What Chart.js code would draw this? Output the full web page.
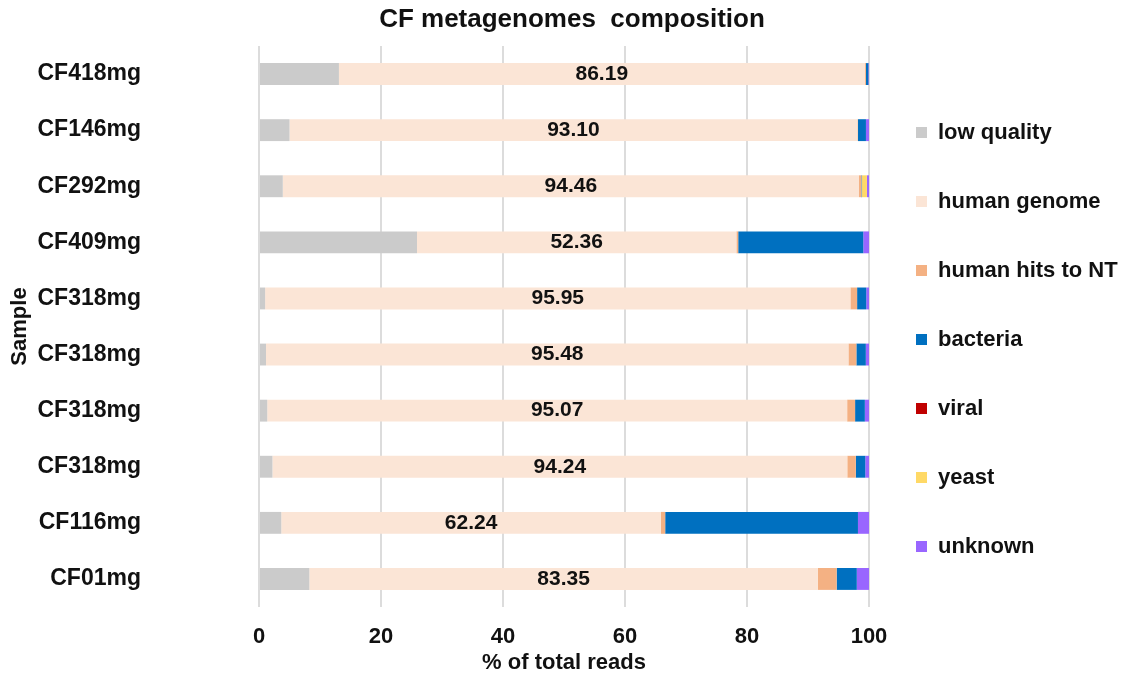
<!DOCTYPE html>
<html>
<head>
<meta charset="utf-8">
<script src="https://cdn.jsdelivr.net/npm/chart.js@4.4.0/dist/chart.umd.min.js"></script>
<style>
  body { margin: 0; background: #fff; }
  #wrap { width: 1122px; height: 679px; }
</style>
</head>
<body>
<div id="wrap"><canvas id="compChart" width="1122" height="679"></canvas></div>
<script>
// Samples, top row first
const samples = ['CF418mg', 'CF146mg', 'CF292mg', 'CF409mg', 'CF318mg', 'CF318mg', 'CF318mg', 'CF318mg', 'CF116mg', 'CF01mg'];

// % of total reads per category
const lowQuality  = [13.1, 5.0, 3.9, 25.9, 1.0, 1.15, 1.35, 2.2, 3.65, 8.25];
const humanGenome = [86.19, 93.10, 94.46, 52.36, 95.95, 95.48, 95.07, 94.24, 62.24, 83.35];
const humanHitsNT = [0.2, 0.1, 0.4, 0.3, 1.1, 1.3, 1.3, 1.4, 0.7, 3.1];
const bacteria    = [0.4, 1.3, 0.1, 20.5, 1.5, 1.55, 1.6, 1.55, 31.6, 3.3];
const viral       = [0.01, 0, 0, 0, 0, 0, 0, 0, 0, 0];
const yeast       = [0, 0, 0.8, 0, 0, 0, 0, 0, 0, 0];
const unknown     = [0.1, 0.5, 0.34, 0.94, 0.45, 0.52, 0.68, 0.61, 1.81, 2.0];

const seriesNames  = ['low quality', 'human genome', 'human hits to NT', 'bacteria', 'viral', 'yeast', 'unknown'];
const seriesValues = [lowQuality, humanGenome, humanHitsNT, bacteria, viral, yeast, unknown];
const seriesColors = ['#CBCBCB', '#FBE5D6', '#F4B183', '#0070C0', '#C00000', '#FFD966', '#9966FF'];

const FONT = "'Liberation Sans', Arial, sans-serif";

// write the human genome share in the middle of its segment
const humanLabels = {
    id: 'humanLabels',
    afterDatasetsDraw(chart) {
        const ctx = chart.ctx;
        const meta = chart.getDatasetMeta(1);
        ctx.save();
        ctx.font = 'bold 21px ' + FONT;
        ctx.fillStyle = '#111';
        ctx.textAlign = 'center';
        ctx.textBaseline = 'middle';
        meta.data.forEach((bar, i) => {
            const p = bar.getProps(['x', 'y', 'base'], true);
            ctx.fillText(humanGenome[i].toFixed(2), (p.x + p.base) / 2, p.y);
        });
        ctx.restore();
    }
};

const ctx = document.getElementById('compChart').getContext('2d');

new Chart(ctx, {
    type: 'bar',
    data: {
        labels: samples,
        datasets: seriesNames.map((name, i) => ({
            label: name,
            data: seriesValues[i],
            backgroundColor: seriesColors[i],
            borderWidth: 0,
            barPercentage: 0.39,
            categoryPercentage: 1
        }))
    },
    options: {
        indexAxis: 'y',
        responsive: false,
        animation: false,
        layout: { padding: { left: 22, right: 0, top: 0, bottom: 0 } },
        plugins: {
            title: {
                display: true,
                text: 'CF metagenomes  composition',
                color: '#111',
                font: { size: 26, weight: 'bold', family: FONT },
                padding: { top: 4.4, bottom: 10.4 }
            },
            legend: {
                position: 'right',
                maxWidth: 253,
                labels: {
                    boxWidth: 11,
                    boxHeight: 11,
                    padding: 47,
                    color: '#111',
                    font: { size: 22, weight: 'bold', family: FONT }
                }
            },
            tooltip: { enabled: false }
        },
        scales: {
            x: {
                stacked: true,
                min: 0,
                max: 100,
                ticks: { stepSize: 20, padding: 17, color: '#111', font: { size: 22, weight: 'bold', family: FONT } },
                grid: { color: '#dcdcdc', lineWidth: 2, drawTicks: false },
                border: { display: false },
                title: {
                    display: true,
                    text: '% of total reads',
                    color: '#111',
                    font: { size: 22, weight: 'bold', family: FONT },
                    padding: { top: 0, bottom: 3 }
                },
                afterFit(scale) { scale.height = 72; }
            },
            y: {
                stacked: true,
                ticks: { padding: 4, color: '#111', font: { size: 23, weight: 'bold', family: FONT } },
                // hidden grid; the long tick length only pushes the labels away from the bars
                grid: { display: false, drawTicks: true, tickLength: 114 },
                border: { display: false },
                title: {
                    display: true,
                    text: 'Sample',
                    color: '#111',
                    font: { size: 22, weight: 'bold', family: FONT },
                    padding: { top: -15, bottom: 0 }
                },
                afterFit(scale) { scale.width = 237; }
            }
        }
    },
    plugins: [humanLabels]
});
</script>
</body>
</html>
